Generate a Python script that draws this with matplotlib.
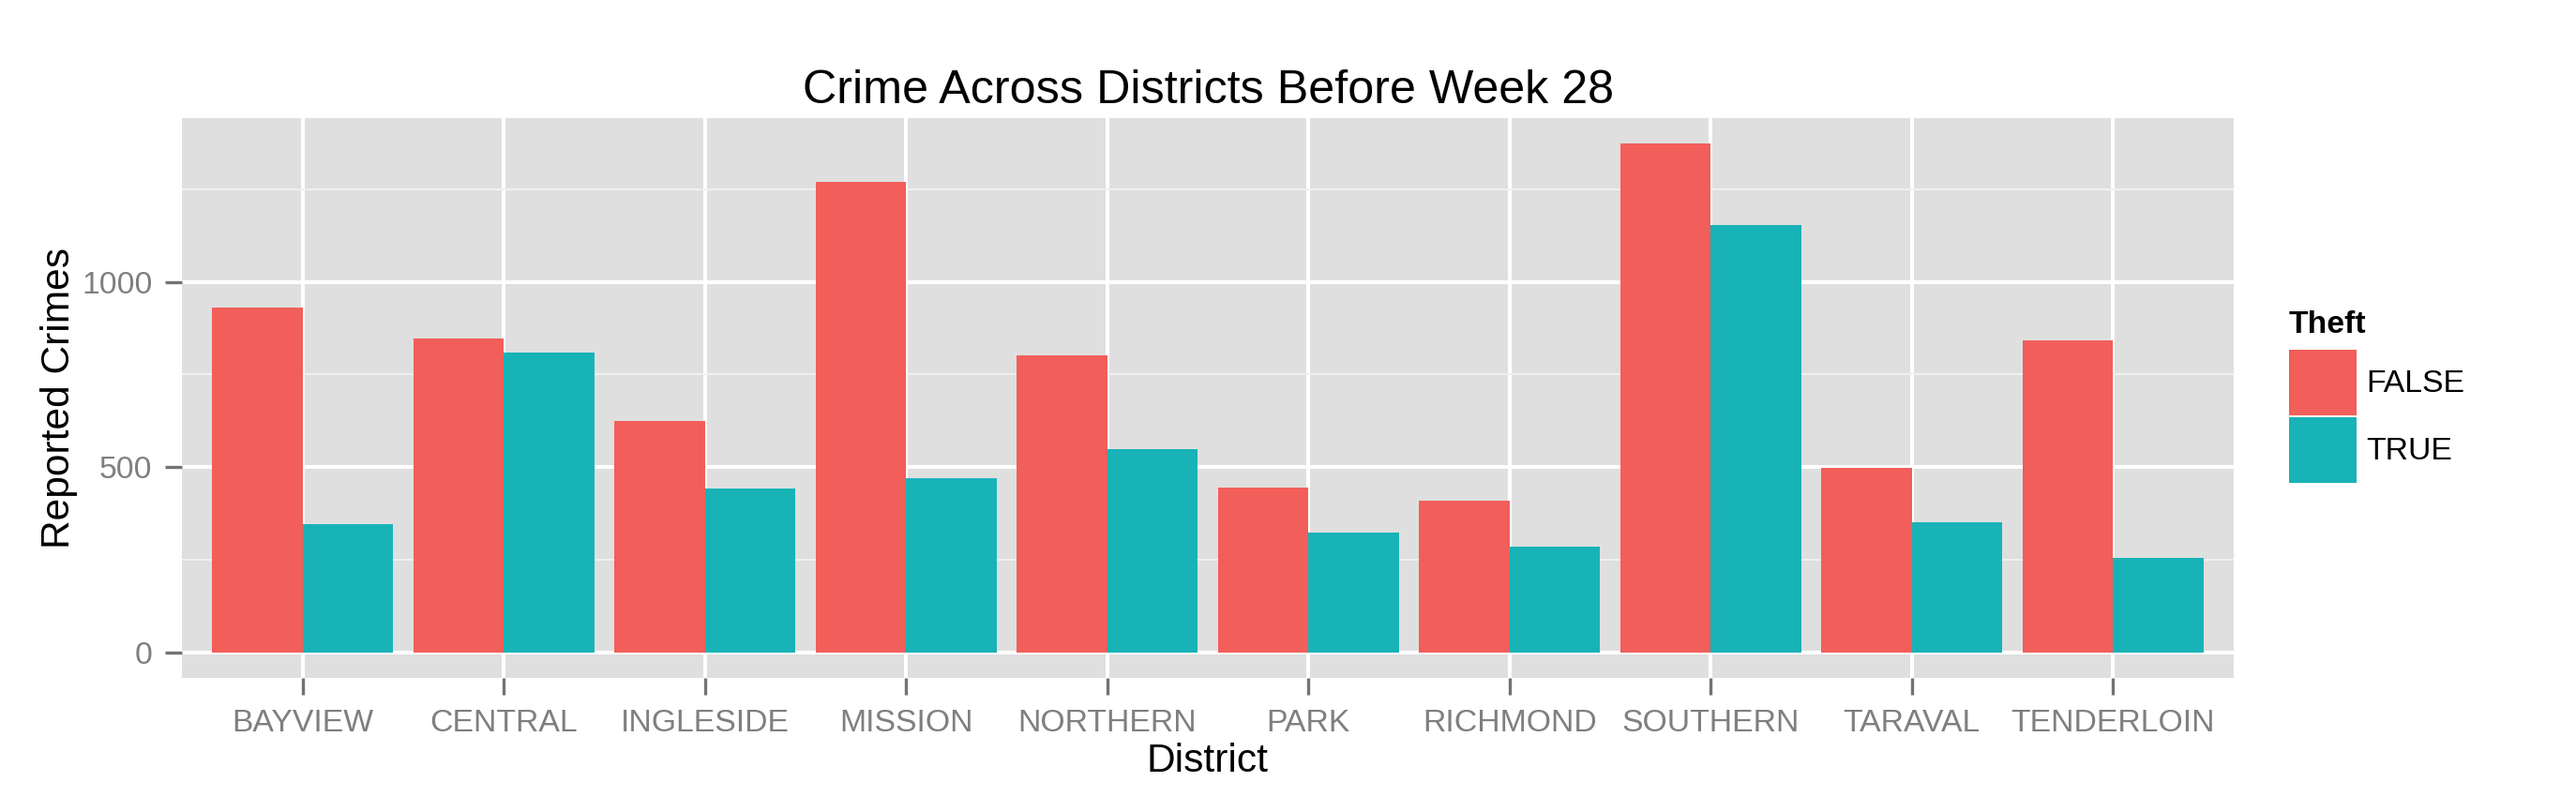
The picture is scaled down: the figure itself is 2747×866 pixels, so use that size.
import matplotlib
matplotlib.use("Agg")
import matplotlib.pyplot as plt
import numpy as np
from matplotlib.patches import Patch

plt.rcParams['font.family'] = ['Liberation Sans', 'DejaVu Sans']

districts = ["BAYVIEW", "CENTRAL", "INGLESIDE", "MISSION", "NORTHERN",
             "PARK", "RICHMOND", "SOUTHERN", "TARAVAL", "TENDERLOIN"]
theft_false = [930, 847, 624, 1271, 801, 444, 408, 1374, 498, 842]
theft_true = [347, 809, 441, 469, 548, 322, 284, 1153, 350, 254]
legend_labels = ["FALSE", "TRUE"]
y_ticks = [0, 500, 1000]

c_false = "#F25E5A"
c_true = "#18B3B7"
bg = "#DFDFDF"
txtgray = "#7F7F7F"
tickgray = "#737373"

fs_tick = 8.1
fs_axis = 10.2
fs_title = 12.05

W, H = 2747, 866
fig = plt.figure(figsize=(W/300, H/300), dpi=300)
ax = fig.add_axes([194/W, 1-722.7/H, (2382-194)/W, (722.7-126)/H])
ax.set_facecolor(bg)

x = np.arange(1, len(districts)+1)
w = 0.45
ax.bar(x - w/2, theft_false, width=w, color=c_false, zorder=3, linewidth=0)
ax.bar(x + w/2, theft_true, width=w, color=c_true, zorder=3, linewidth=0)

ymax = max(max(theft_false), max(theft_true))
ax.set_ylim(-0.05*ymax, 1.05*ymax)
ax.set_xlim(0.4, len(districts)+0.6)

ax.set_yticks(y_ticks)
ax.set_yticks([250, 750, 1250], minor=True)
ax.set_xticks(x)
ax.set_xticklabels(districts)
ax.grid(True, which='major', color='white', linewidth=0.96, zorder=1)
ax.grid(True, which='minor', axis='y', color='#F0F0F0', linewidth=0.5, zorder=1)
ax.set_axisbelow(True)
for s in ax.spines.values():
    s.set_visible(False)
ax.tick_params(axis='both', which='major', colors=tickgray, labelsize=fs_tick,
               length=4.25, width=0.8)
ax.tick_params(axis='x', which='major', pad=3.7)
ax.tick_params(axis='y', which='major', pad=3.3)
ax.tick_params(axis='both', which='minor', length=0)
for lab in ax.get_xticklabels() + ax.get_yticklabels():
    lab.set_color(txtgray)

ax.set_xlabel("District", fontsize=fs_axis, color='black')
ax.set_ylabel("Reported Crimes", fontsize=fs_axis, color='black')
ax.xaxis.set_label_coords(0.5, -0.116)
ax.yaxis.set_label_coords(-0.0507, 0.5)
ax.set_title("Crime Across Districts Before Week 28", fontsize=fs_title, color='black', pad=3.8)

# legend
fig.text(2441/W, 1-355/H, "Theft", fontsize=fs_tick, weight='bold',
         ha='left', va='baseline', color='black')
handles = [Patch(facecolor=c_false, edgecolor='none'),
           Patch(facecolor=c_true, edgecolor='none')]
leg = fig.legend(handles, legend_labels, loc='upper left',
                 bbox_to_anchor=(2441/W, 1-373/H), frameon=False,
                 fontsize=fs_tick, handlelength=2.13, handleheight=2.81,
                 labelspacing=0.06, handletextpad=0.3, borderpad=0,
                 borderaxespad=0)

fig.savefig("out.png", dpi=300)
